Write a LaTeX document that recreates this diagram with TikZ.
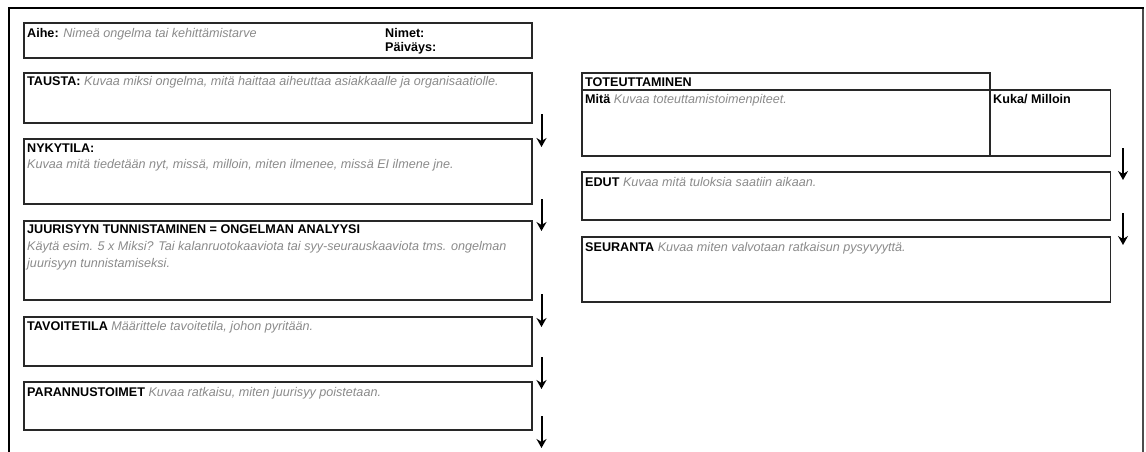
\documentclass[tikz,border=0pt]{standalone}
\usepackage{fontspec}
\setmainfont{Liberation Sans}
\usetikzlibrary{arrows.meta}
\definecolor{hint}{RGB}{138,138,138}
\definecolor{rule}{RGB}{40,40,40}
\newcommand\fieldhead[1]{\textbf{#1}}
\newcommand\fieldhint[1]{\textcolor{hint}{\itshape #1}}
\begin{document}
\begin{tikzpicture}[x=1pt,y=-1pt,
  field/.style={draw=rule, line width=1.3pt, anchor=north west, inner sep=0pt, outer sep=0pt},
  lbl/.style={anchor=base west, inner sep=0pt, font=\fontsize{12.6}{17}\selectfont},
  flow/.style={line width=2pt, -{Stealth[length=9pt,width=10pt,inset=3pt]}},
]
\useasboundingbox (0,0) rectangle (1146,452);

% page frame, open at the bottom
\draw[line width=1.4pt, black!70] (1143,8) -- (1143,460);
\draw[line width=2.4pt, line join=miter] (9,460) -- (9,8) -- (1143.7,8);

% left column
\node[field, minimum width=508pt, minimum height=35pt] (aihe) at (24,23) {};
\node[field, minimum width=508pt, minimum height=50pt] (tausta) at (24,73) {};
\node[field, minimum width=508pt, minimum height=65pt] (nyky) at (24,139) {};
\node[field, minimum width=508pt, minimum height=79pt] (juuri) at (24,221) {};
\node[field, minimum width=508pt, minimum height=49pt] (tavoite) at (24,317) {};
\node[field, minimum width=508pt, minimum height=48pt] (parannus) at (24,382) {};

\node[lbl] (aihe-t) at (27,37.5) {\fieldhead{Aihe:} \fieldhint{Nimeä ongelma tai kehittämistarve}};
\node[lbl] (nimet-t) at (385,37.5) {\fieldhead{Nimet:}};
\node[lbl] (pvm-t) at (385,51.5) {\fieldhead{Päiväys:}};
\node[lbl] (tausta-t) at (27,85.5) {\fieldhead{TAUSTA:} \fieldhint{Kuvaa miksi ongelma, mitä haittaa aiheuttaa asiakkaalle ja organisaatiolle.}};
\node[lbl] (nyky-t) at (27,152.5) {\fieldhead{NYKYTILA:}};
\node[lbl] (nyky-h) at (27,168.5) {\fieldhint{Kuvaa mitä tiedetään nyt, missä, milloin, miten ilmenee, missä EI ilmene jne.}};
\node[lbl] (juuri-t) at (27,233) {\fieldhead{JUURISYYN TUNNISTAMINEN = ONGELMAN ANALYYSI}};
\node[lbl] (juuri-h1) at (27,250) {\fieldhint{Käytä esim. 5 x Miksi? Tai kalanruotokaaviota tai syy-seurauskaaviota tms. ongelman}};
\node[lbl] (juuri-h2) at (27,267) {\fieldhint{juurisyyn tunnistamiseksi.}};
\node[lbl] (tavoite-t) at (27,330.5) {\fieldhead{TAVOITETILA} \fieldhint{Määrittele tavoitetila, johon pyritään.}};
\node[lbl] (parannus-t) at (27,396) {\fieldhead{PARANNUSTOIMET} \fieldhint{Kuvaa ratkaisu, miten juurisyy poistetaan.}};

% right column
\node[field, minimum width=408pt, minimum height=17pt] (tot) at (582,73) {};
\node[field, minimum width=408pt, minimum height=66pt] (mita) at (582,90) {};
\node[field, minimum width=120.5pt, minimum height=66pt] (kuka) at (990,90) {};
\node[field, minimum width=528.5pt, minimum height=48pt] (edut) at (582,172) {};
\node[field, minimum width=528.5pt, minimum height=65pt] (seuranta) at (582,237) {};

\node[lbl] (tot-t) at (585,86) {\fieldhead{TOTEUTTAMINEN}};
\node[lbl] (mita-t) at (585,103.5) {\fieldhead{Mitä} \fieldhint{Kuvaa toteuttamistoimenpiteet.}};
\node[lbl] (kuka-t) at (993,103.5) {\fieldhead{Kuka/ Milloin}};
\node[lbl] (edut-t) at (585,186) {\fieldhead{EDUT} \fieldhint{Kuvaa mitä tuloksia saatiin aikaan.}};
\node[lbl] (seuranta-t) at (585,251.5) {\fieldhead{SEURANTA} \fieldhint{Kuvaa miten valvotaan ratkaisun pysyvyyttä.}};

% flow arrows beside the fields
\coordinate (l1a) at (541.5,114); \coordinate (l1b) at (541.5,147);
\coordinate (l2a) at (541.5,199); \coordinate (l2b) at (541.5,231);
\coordinate (l3a) at (541.5,294); \coordinate (l3b) at (541.5,327);
\coordinate (l4a) at (541.5,357); \coordinate (l4b) at (541.5,389);
\coordinate (l5a) at (541.5,416); \coordinate (l5b) at (541.5,448);
\coordinate (r1a) at (1123,148); \coordinate (r1b) at (1123,180);
\coordinate (r2a) at (1123,213); \coordinate (r2b) at (1123,245);
\foreach \s/\e in {l1a/l1b,l2a/l2b,l3a/l3b,l4a/l4b,l5a/l5b,r1a/r1b,r2a/r2b}
  \draw[flow] (\s) -- (\e);
\end{tikzpicture}
\end{document}
